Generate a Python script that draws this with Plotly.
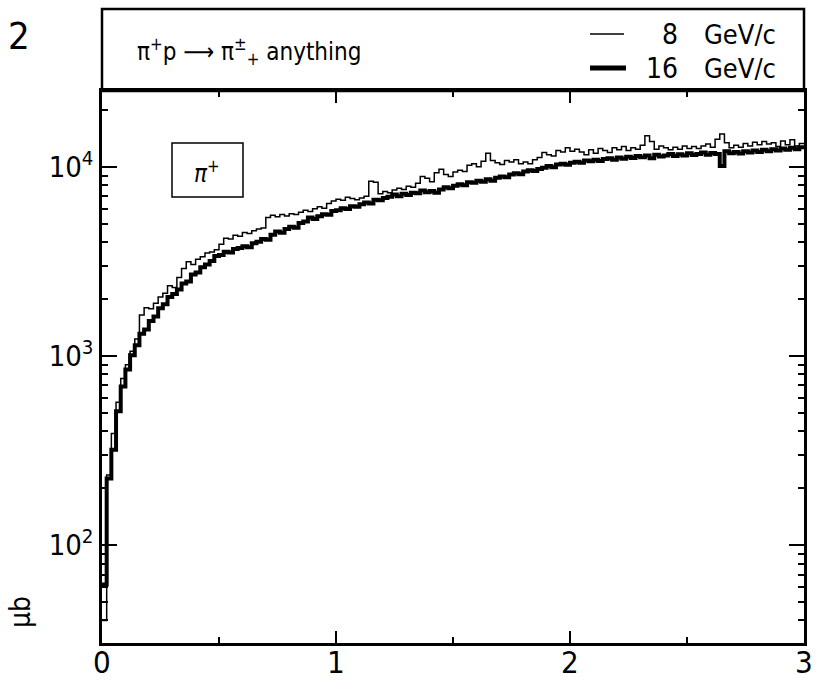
import plotly.graph_objects as go

W, H = 818, 680

# ---------------- data ----------------
BIN_START = 0.0
BIN_WIDTH = 0.02

# 16 GeV/c (thick histogram), 150 bins of width 0.02 from 0 to 3
y16 = [
    62, 225, 320, 510, 690, 850, 1010, 1140, 1310, 1380,
    1530, 1620, 1790, 1880, 2050, 2130, 2250, 2420, 2480, 2700,
    2760, 2950, 3050, 3180, 3380, 3420, 3560, 3530, 3680, 3720,
    3800, 3760, 3950, 4020, 4150, 4120, 4380, 4550, 4480, 4700,
    4820, 4760, 5050, 5150, 5400, 5300, 5480, 5620, 5580, 5850,
    5900, 6050, 5980, 6200, 6150, 6350, 6480, 6400, 6700, 6650,
    6850, 6950, 7150, 7000, 7200, 7100, 7300, 7250, 7500, 7350,
    7450, 7300, 7600, 7800, 7700, 7950, 8100, 8000, 8300, 8250,
    8450, 8350, 8600, 8450, 8750, 8900, 8800, 9100, 9250, 9150,
    9450, 9600, 9500, 9750, 9900, 10100, 9950, 10300, 10400, 10250,
    10500, 10650, 10500, 10800, 10700, 10900, 10750, 11000, 11100, 10900,
    11200, 11050, 11300, 11150, 11400, 11250, 11500, 11100, 11600, 11350,
    11500, 11700, 11400, 11650, 11500, 11800, 11550, 11700, 11900, 11600,
    11850, 11700, 10100, 12100, 11800, 12000, 11750, 12100, 11900, 12200,
    12000, 12300, 12100, 12400, 12200, 12500, 12300, 12600, 12400, 12700,
]

# 8 GeV/c (thin histogram)
y8 = [
    40, 235, 390, 570, 760, 900, 1060, 1230, 1650, 1800,
    1780, 1900, 2050, 2150, 2350, 2300, 2600, 2900, 3150, 3050,
    3250, 3350, 3500, 3550, 3650, 3900, 4200, 4150, 4350, 4300,
    4500, 4450, 4600, 4700, 4750, 5400, 5550, 5450, 5600, 5500,
    5650, 5600, 5750, 5900, 5800, 6000, 6150, 6050, 6400, 6600,
    6750, 6650, 6900, 6800, 6700, 6850, 7000, 8400, 8300, 7200,
    7400, 7300, 7550, 7700, 7600, 7900, 7800, 8200, 8900, 8700,
    8350, 9300, 9700, 9100, 8900, 9400, 9600, 9450, 10200, 10400,
    10000, 10700, 11800, 10800, 10500, 10300, 10800, 10600, 10900, 10400,
    10600, 10400, 10900, 11200, 11900, 11600, 11400, 12200, 12000, 12600,
    12100, 12400, 12000, 11600, 12300, 11800, 12500, 12200, 11900, 12600,
    12300, 12800, 12200, 12600, 12400, 13000, 14600, 13600, 12400, 12900,
    12600, 12300, 12700, 12400, 12900, 12500, 12800, 12500, 12900, 13200,
    12700, 14000, 14900, 13400, 12600, 13000, 12700, 13300, 12900, 13500,
    13100, 13600, 13200, 13400, 12800, 13700, 13100, 13900, 12900, 13300,
]

x_tick_vals = [0, 1, 2, 3]
x_tick_text = ["0", "1", "2", "3"]
x_minor_vals = [0.5, 1.5, 2.5]
y_tick_vals = [100, 1000, 10000]
y_tick_text = ["10<sup>2</sup>", "10<sup>3</sup>", "10<sup>4</sup>"]
y_minor_vals = [40, 50, 60, 70, 80, 90,
                200, 300, 400, 500, 600, 700, 800, 900,
                2000, 3000, 4000, 5000, 6000, 7000, 8000, 9000, 20000]

legend_labels = ["8", "16"]
legend_unit = "GeV/c"

# ---------------- helpers ----------------
def px(x):
    return x / W

def py(y):
    return 1 - y / H

def step(vals):
    xs = [round(BIN_START + BIN_WIDTH * i, 4) for i in range(len(vals) + 1)]
    ys = list(vals) + [vals[-1]]
    return xs, ys

FONT = "Liberation Sans Narrow, DejaVu Sans Condensed, Liberation Sans"
X0, X1, YT, YB = 102, 804, 91, 643

fig = go.Figure()
xs, ys = step(y8)
fig.add_trace(go.Scatter(x=xs, y=ys, mode="lines",
                         line=dict(shape="hv", color="black", width=1.5),
                         showlegend=False, name="8 GeV/c"))
xs, ys = step(y16)
fig.add_trace(go.Scatter(x=xs, y=ys, mode="lines",
                         line=dict(shape="hv", color="black", width=4),
                         showlegend=False, name="16 GeV/c"))

fig.update_layout(
    width=W, height=H,
    margin=dict(l=0, r=0, t=0, b=0),
    paper_bgcolor="white", plot_bgcolor="white",
    font=dict(family=FONT, color="black"),
    xaxis=dict(
        domain=[px(X0), px(X1)], range=[0, 3], automargin=False,
        showgrid=False, zeroline=False,
        showline=True, linecolor="black", linewidth=3, mirror="ticks",
        ticks="inside", ticklen=12, tickwidth=2, tickcolor="black",
        tickvals=x_tick_vals, showticklabels=False,
        minor=dict(ticks="inside", ticklen=6, tickwidth=2, tickcolor="black",
                   tickvals=x_minor_vals, showgrid=False),
    ),
    yaxis=dict(
        domain=[py(YB), py(YT)], type="log", range=[1.483, 4.401], automargin=False,
        showgrid=False, zeroline=False,
        showline=True, linecolor="black", linewidth=2.5, mirror="ticks",
        ticks="inside", ticklen=15, tickwidth=2, tickcolor="black",
        tickvals=y_tick_vals, ticktext=y_tick_text,
        tickfont=dict(size=29, family=FONT),
        minor=dict(ticks="inside", ticklen=6, tickwidth=1.5, tickcolor="black",
                   tickvals=y_minor_vals, showgrid=False),
    ),
)

shapes = [
    # header box
    dict(type="rect", xref="paper", yref="paper",
         x0=px(X0), x1=px(X1), y0=py(YT), y1=py(9),
         line=dict(color="black", width=2.5)),
    # legend samples
    dict(type="line", xref="paper", yref="paper",
         x0=px(590), x1=px(624), y0=py(34), y1=py(34),
         line=dict(color="black", width=1.5)),
    dict(type="line", xref="paper", yref="paper",
         x0=px(590), x1=px(626), y0=py(68), y1=py(68),
         line=dict(color="black", width=5)),
    # pi+ box
    dict(type="rect", xref="paper", yref="paper",
         x0=px(172), x1=px(243), y0=py(197), y1=py(143),
         line=dict(color="black", width=1.5)),
]
fig.update_layout(shapes=shapes)

ann = [
    dict(text="2", x=px(6), y=py(36), xanchor="left", yanchor="middle",
         font=dict(size=38)),
    dict(text="μb", x=px(20), y=py(612), xanchor="center", yanchor="middle",
         textangle=-90, font=dict(size=28)),
    dict(text="π<sup>+</sup>p ⟶ π<sup>±</sup><sub>+</sub> anything",
         x=px(135), y=py(52), xanchor="left", yanchor="middle",
         font=dict(size=24)),
    dict(text=legend_labels[0], x=px(680), y=py(34), xanchor="right", yanchor="middle",
         font=dict(size=28)),
    dict(text=legend_unit, x=px(702), y=py(34), xanchor="left", yanchor="middle",
         font=dict(size=27)),
    dict(text=legend_labels[1], x=px(680), y=py(69), xanchor="right", yanchor="middle",
         font=dict(size=28)),
    dict(text=legend_unit, x=px(702), y=py(69), xanchor="left", yanchor="middle",
         font=dict(size=27)),
    dict(text="<i>π</i><sup>+</sup>", x=px(207), y=py(172), xanchor="center", yanchor="middle",
         font=dict(size=24)),
]
for a in ann:
    a.update(xref="paper", yref="paper", showarrow=False)

# x tick labels placed under their data positions
for v, t in zip(x_tick_vals, x_tick_text):
    ann.append(dict(text=t, x=v, xref="x", y=py(662), yref="paper",
                    xanchor="center", yanchor="middle", showarrow=False,
                    font=dict(size=31)))

fig.update_layout(annotations=ann)

fig.write_html("out.html")
